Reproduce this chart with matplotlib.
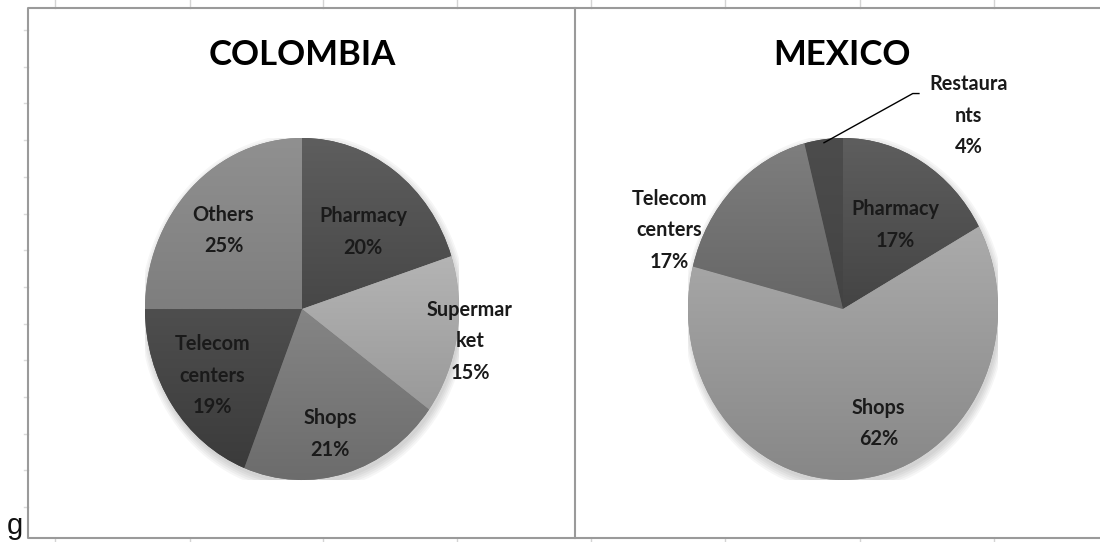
import numpy as np
import matplotlib
matplotlib.use("Agg")
import matplotlib.pyplot as plt
from matplotlib.patches import Ellipse
from matplotlib.colors import to_rgb

# data
colombia_labels = ["Pharmacy", "Supermar\nket", "Shops", "Telecom\ncenters", "Others"]
colombia_values = [20, 15, 21, 19, 25]
mexico_labels = ["Pharmacy", "Shops", "Telecom\ncenters", "Restaura\nnts"]
mexico_values = [17, 62, 17, 4]

# gradient colours (top, bottom) per slice
colombia_colors = [("#5e5e5e", "#474747"), ("#b4b4b4", "#999999"), ("#858585", "#6c6c6c"),
                   ("#4e4e4e", "#3b3b3b"), ("#909090", "#7e7e7e")]
mexico_colors = [("#5e5e5e", "#444444"), ("#ababab", "#878787"), ("#7e7e7e", "#666666"),
                 ("#4c4c4c", "#434343")]

# label spots in pie units (x, y)
colombia_pos = [(0.39, 0.45), (1.07, -0.19), (0.18, -0.73), (-0.57, -0.39), (-0.50, 0.46)]
mexico_pos = [(0.34, 0.49), (0.23, -0.67), (-1.12, 0.46), (0.81, 1.13)]

W, H = 1100, 542
fig = plt.figure(figsize=(W / 100, H / 100), dpi=100)
fig.patch.set_facecolor("white")

# background sheet: gridlines, chart frames, stray "g"
bg = fig.add_axes([0, 0, 1, 1])
bg.set_xlim(0, W)
bg.set_ylim(H, 0)
bg.axis("off")
for x in [55, 190, 323, 457, 591, 725, 860, 994]:
    bg.plot([x, x], [0, 8], color="#d4d4d4", lw=1)
    bg.plot([x, x], [538, H], color="#d4d4d4", lw=1)
for y in np.arange(30, 530, 36.7):
    bg.plot([24, 28], [y, y], color="#dadada", lw=1)
bg.plot([1105, 28, 28, 1105], [8, 8, 538, 538], color="#9a9a9a", lw=1.5)
bg.plot([574.5, 574.5], [8, 538], color="#9a9a9a", lw=1.5)
bg.text(7, 534, "g", fontsize=21, family="Liberation Sans", color="#111111", va="baseline")


def gradient_pie(rect, values, labels, colors, positions, title, title_x):
    ax = fig.add_axes(rect)
    # soft shadow
    for k in range(5):
        ax.add_patch(Ellipse((0.01, -0.025), 2.0 + 0.02 * k, 2.0 + 0.025 * k,
                             facecolor="black", alpha=0.035, lw=0, zorder=0))
    wedges, _ = ax.pie(values, startangle=90, counterclock=False, radius=1,
                       colors=[b for t, b in colors], wedgeprops=dict(linewidth=0))
    ax.set_aspect("auto")
    ax.set_xlim(-1, 1)
    ax.set_ylim(-1, 1)
    ax.axis("off")
    for w, (top, bot) in zip(wedges, colors):
        w.set_zorder(1)
        ext = w.get_path().get_extents()
        grad = np.linspace(0, 1, 128)[:, None]
        c = np.array(to_rgb(top))[None, :] * (1 - grad) + np.array(to_rgb(bot))[None, :] * grad
        img = ax.imshow(c[:, None, :], extent=[ext.x0, ext.x1, ext.y0, ext.y1],
                        origin="upper", aspect="auto", zorder=2, interpolation="bilinear")
        img.set_clip_path(w)
    ax.set_xlim(-1, 1)
    ax.set_ylim(-1, 1)
    for v, lab, (x, y) in zip(values, labels, positions):
        ax.text(x, y, f"{lab}\n{v}%", ha="center", va="center", fontsize=14.3,
                family="Lato", weight="bold", color="#1a1a1a", linespacing=1.72,
                zorder=5)
    fig.text(title_x / W, 1 - 55 / H, title, ha="center", va="center", fontsize=25,
             family="Lato", weight="bold", color="black")
    return ax, wedges


gradient_pie([145 / W, 62 / H, 314 / W, 342 / H], colombia_values, colombia_labels,
             colombia_colors, colombia_pos, "COLOMBIA", 302)
mx, mw = gradient_pie([688 / W, 62 / H, 310 / W, 342 / H], mexico_values, mexico_labels,
                      mexico_colors, mexico_pos, "MEXICO", 842)

# leader line for the small Restaurants slice
r = mw[3]
mid = np.deg2rad((r.theta1 + r.theta2) / 2)
mx.plot([0.98 * np.cos(mid), 0.45, 0.49], [0.98 * np.sin(mid), 1.26, 1.26],
        color="black", lw=1, clip_on=False, zorder=5)

fig.savefig("out.png", dpi=100, facecolor="white")
